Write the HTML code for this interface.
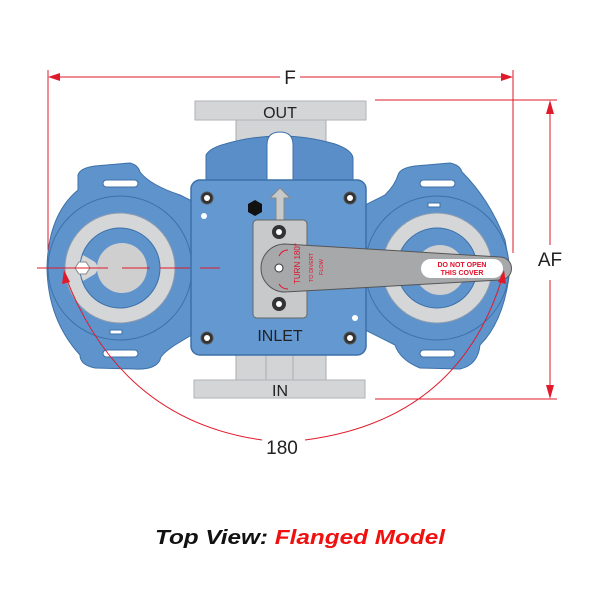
<!DOCTYPE html>
<html><head><style>html,body{margin:0;padding:0;background:#fff}svg{display:block}</style></head><body>
<svg width="600" height="600" viewBox="0 0 600 600" xmlns="http://www.w3.org/2000/svg" font-family="Liberation Sans, sans-serif">
<!-- pipe necks -->
<rect x="236" y="118" width="90" height="40" fill="#d3d4d6" stroke="#a9abae"/>
<rect x="236" y="350" width="90" height="32" fill="#d3d4d6" stroke="#a9abae"/>
<line x1="266" y1="350" x2="266" y2="382" stroke="#a9abae"/><line x1="293" y1="350" x2="293" y2="382" stroke="#a9abae"/>
<!-- flanges -->
<rect x="195" y="101" width="171" height="19" fill="#d4d5d7" stroke="#b0b2b5"/>
<rect x="194" y="380" width="171" height="18" fill="#d4d5d7" stroke="#b0b2b5"/>
<text x="280" y="118" font-size="16" text-anchor="middle" fill="#222">OUT</text>
<text x="280" y="396" font-size="16" text-anchor="middle" fill="#222">IN</text>
<!-- top bump -->
<path d="M206 185 L206 155 Q210 148 225 144 Q280 128 335 144 Q352 150 353 158 L353 185 Z" fill="#5a8ec8" stroke="#3d70a8"/>
<path d="M267 180 L267 145 Q267 132 280 132 Q293 132 293 145 L293 180 Z" fill="#fff" stroke="#3d70a8"/>
<!-- left lobe -->
<path d="M78 175 Q80 168 95 166 L130 163 Q138 165 140 172 Q150 185 180 195 L200 205 L200 330 L175 345 Q160 355 160 360 Q155 370 135 369 L95 368 Q80 365 80 355 Q48 320 47 268 Q48 215 78 190 Z" fill="#5e93cc" stroke="#3d70a8"/>
<circle cx="120" cy="268" r="72" fill="#5e93cc" stroke="#3d70a8"/>
<circle cx="120" cy="268" r="55" fill="#d5d6d8" stroke="#8a9bb0"/>
<circle cx="120" cy="268" r="40" fill="#5e93cc" stroke="#3d70a8"/>
<circle cx="122" cy="268" r="25" fill="#cfcfcf"/>
<path d="M80 268 A40 40 0 0 1 83 255 L95 262 Q100 268 95 274 L83 281 A40 40 0 0 1 80 268Z" fill="#d5d6d8"/>
<polygon points="75,268 79,262 86,262 90,268 86,274 79,274" fill="#fff" stroke="#888"/>
<!-- right lobe -->
<path d="M398 175 Q400 168 415 166 L450 163 Q460 165 462 172 Q490 200 505 240 L510 268 Q505 320 480 345 Q478 365 460 369 L420 368 Q400 360 395 345 L365 330 L365 205 L385 195 Q395 185 398 175Z" fill="#5e93cc" stroke="#3d70a8"/>
<circle cx="437" cy="268" r="72" fill="#5e93cc" stroke="#3d70a8"/>
<circle cx="437" cy="268" r="55" fill="#d5d6d8" stroke="#8a9bb0"/>
<circle cx="437" cy="268" r="40" fill="#5e93cc" stroke="#3d70a8"/>
<circle cx="440" cy="270" r="25" fill="#cfcfcf"/>
<!-- slots -->
<g fill="#fff" stroke="#3d70a8" stroke-width="1">
<rect x="103" y="180" width="35" height="7" rx="3.5"/><rect x="103" y="350" width="35" height="7" rx="3.5"/>
<rect x="420" y="180" width="35" height="7" rx="3.5"/><rect x="420" y="350" width="35" height="7" rx="3.5"/>
<rect x="428" y="203" width="12" height="4"/><rect x="110" y="330" width="12" height="4"/>
</g>
<!-- center body -->
<rect x="191" y="180" width="175" height="175" rx="9" fill="#6398d0" stroke="#3d70a8" stroke-width="1.5"/>
<g fill="#333" stroke="#555">
<circle cx="207" cy="198" r="6"/><circle cx="350" cy="198" r="6"/><circle cx="207" cy="338" r="6"/><circle cx="350" cy="338" r="6"/>
</g>
<g fill="#fff"><circle cx="207" cy="198" r="3"/><circle cx="350" cy="198" r="3"/><circle cx="207" cy="338" r="3"/><circle cx="350" cy="338" r="3"/>
<circle cx="204" cy="216" r="3"/><circle cx="355" cy="318" r="3"/></g>
<polygon points="255,200 262,204 262,212 255,216 248,212 248,204" fill="#111"/>
<!-- arrow -->
<polygon points="280,188 290,198 284,198 284,222 276,222 276,198 270,198" fill="#c8c9cb" stroke="#888"/>
<!-- plate -->
<rect x="253" y="220" width="54" height="98" rx="4" fill="#c8c9cb" stroke="#666"/>
<circle cx="279" cy="232" r="7" fill="#333"/><circle cx="279" cy="232" r="3" fill="#fff"/>
<circle cx="279" cy="304" r="7" fill="#333"/><circle cx="279" cy="304" r="3" fill="#fff"/>
<!-- lever -->
<path d="M285 244 L500 257 A11.5 11.5 0 0 1 500 280 L285 292 A24 24 0 0 1 285 244 Z" fill="#a7a8aa" stroke="#555"/>
<rect x="421" y="259" width="82" height="19" rx="9.5" fill="#fff"/>
<text x="462" y="267" font-size="7" fill="#e0102a" text-anchor="middle" font-weight="bold">DO NOT OPEN</text>
<text x="462" y="275" font-size="7" fill="#e0102a" text-anchor="middle" font-weight="bold">THIS COVER</text>
<circle cx="279" cy="268" r="4" fill="#fff" stroke="#333"/>
<text transform="translate(300,284) rotate(-90)" font-size="8" fill="#e0102a">TURN 180°</text>
<text transform="translate(313,282) rotate(-90)" font-size="5.5" fill="#e0102a">TO DIVERT</text>
<text transform="translate(323,275) rotate(-90)" font-size="5.5" fill="#e0102a">FLOW</text>
<path d="M279 256 Q282 250 288 250" stroke="#e0102a" fill="none"/><path d="M279 284 Q282 289 288 289" stroke="#e0102a" fill="none"/>
<text x="280" y="341" font-size="16" text-anchor="middle" fill="#222">INLET</text>
<!-- dimensions -->
<g stroke="#e01a2a" stroke-width="1" fill="none">
<line x1="48" y1="70" x2="48" y2="250"/><line x1="513" y1="70" x2="513" y2="253"/>
<line x1="50" y1="77" x2="280" y2="77"/><line x1="300" y1="77" x2="511" y2="77"/>
<line x1="375" y1="100" x2="557" y2="100"/><line x1="375" y1="399" x2="557" y2="399"/>
<line x1="550" y1="102" x2="550" y2="245"/><line x1="550" y1="280" x2="550" y2="397"/>
<line x1="37" y1="268" x2="108" y2="268"/><line x1="122" y1="268" x2="150" y2="268"/><line x1="160" y1="268" x2="190" y2="268"/><line x1="200" y1="268" x2="220" y2="268"/>
<path d="M65 275 Q120 420 262 440"/><path d="M305 440 Q460 420 503 275"/>
</g>
<g fill="#e01a2a">
<polygon points="48,77 60,73 60,81"/><polygon points="513,77 501,73 501,81"/>
<polygon points="550,100 546,114 554,114"/><polygon points="550,399 546,385 554,385"/>
<polygon points="64,270 62,284 70,282"/><polygon points="504,270 498,282 506,284"/>
</g>
<text x="290" y="84" font-size="19" text-anchor="middle" fill="#222">F</text>
<text x="550" y="266" font-size="19" text-anchor="middle" fill="#222">AF</text>
<text x="282" y="454" font-size="19" text-anchor="middle" fill="#222">180</text>
<text x="155" y="544" font-size="20" font-weight="bold" font-style="italic" textLength="290" lengthAdjust="spacingAndGlyphs"><tspan fill="#111">Top View: </tspan><tspan fill="#f01010">Flanged Model</tspan></text>
</svg>
</body></html>
